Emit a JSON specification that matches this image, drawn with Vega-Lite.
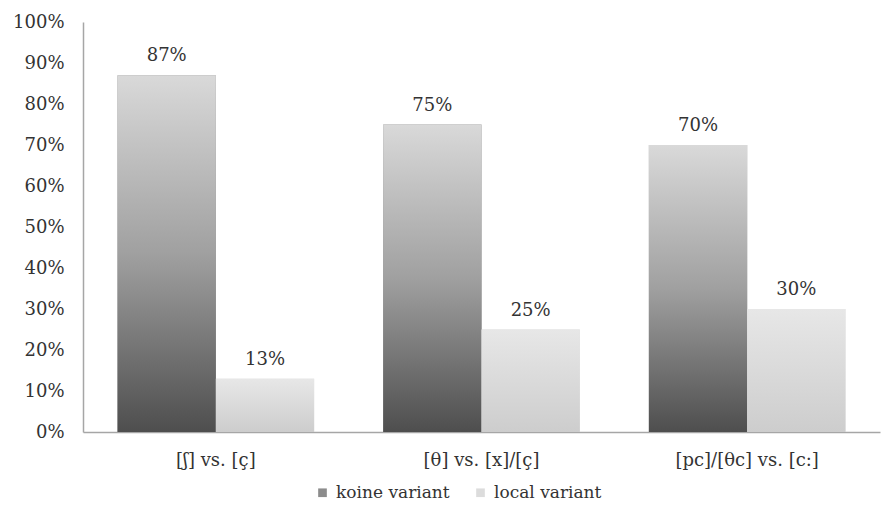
{
  "$schema": "https://vega.github.io/schema/vega-lite/v6.json",
  "width": 797,
  "height": 410,
  "autosize": {"type": "none"},
  "padding": {"left": 83, "top": 22, "right": 3, "bottom": 79},
  "background": "white",
  "config": {
    "font": "DejaVu Serif",
    "view": {"stroke": null},
    "axis": {"labelFont": "DejaVu Serif", "labelFontSize": 18, "labelColor": "#333333", "domainColor": "#a6a6a6", "domainWidth": 1.5, "ticks": false, "grid": false, "title": null}
  },
  "data": {
    "values": [
      {"pair": "[ʃ] vs. [ç]", "series": "koine variant", "share": 0.87},
      {"pair": "[ʃ] vs. [ç]", "series": "local variant", "share": 0.13},
      {"pair": "[θ] vs. [x]/[ç]", "series": "koine variant", "share": 0.75},
      {"pair": "[θ] vs. [x]/[ç]", "series": "local variant", "share": 0.25},
      {"pair": "[pc]/[θc] vs. [c:]", "series": "koine variant", "share": 0.70},
      {"pair": "[pc]/[θc] vs. [c:]", "series": "local variant", "share": 0.30}
    ]
  },
  "encoding": {
    "x": {
      "field": "pair", "type": "nominal", "sort": null,
      "scale": {"paddingInner": 0.26, "paddingOuter": 0.13},
      "axis": {"labelAngle": 0, "labelPadding": 19}
    },
    "xOffset": {"field": "series", "type": "nominal", "sort": ["koine variant", "local variant"]},
    "y": {
      "field": "share", "type": "quantitative",
      "scale": {"domain": [0, 1]},
      "axis": {"format": ".0%", "values": [0, 0.1, 0.2, 0.3, 0.4, 0.5, 0.6, 0.7, 0.8, 0.9, 1], "labelPadding": 19}
    }
  },
  "layer": [
    {
      "mark": {"type": "bar"},
      "encoding": {
        "color": {
          "field": "series", "type": "nominal",
          "scale": {"domain": ["koine variant", "local variant"], "range": ["#8c8c8c", "#dcdcdc"]},
          "legend": {
            "title": null, "orient": "none", "direction": "horizontal",
            "legendX": 231, "legendY": 462,
            "symbolType": "square", "symbolSize": 75,
            "labelFont": "DejaVu Serif", "labelFontSize": 17, "labelColor": "#333333",
            "columnPadding": 22, "labelOffset": 5,
            "encode": {
              "symbols": {
                "update": {
                  "fill": {"signal": "datum.value === 'koine variant' ? {gradient: 'linear', x1: 0, y1: 1, x2: 0, y2: 0, stops: [{offset: 0, color: '#505050'}, {offset: 1, color: '#d8d8d8'}]} : {gradient: 'linear', x1: 0, y1: 1, x2: 0, y2: 0, stops: [{offset: 0, color: '#cccccc'}, {offset: 1, color: '#e8e8e8'}]}"}
                }
              }
            }
          }
        }
      }
    },
    {
      "mark": {"type": "bar"},
      "encoding": {
        "fill": {
          "condition": {
            "test": "datum.series === 'koine variant'",
            "value": {"gradient": "linear", "x1": 0, "y1": 1, "x2": 0, "y2": 0, "stops": [{"offset": 0, "color": "#4e4e4e"}, {"offset": 0.5, "color": "#a0a0a0"}, {"offset": 1, "color": "#d9d9d9"}]}
          },
          "value": {"gradient": "linear", "x1": 0, "y1": 1, "x2": 0, "y2": 0, "stops": [{"offset": 0, "color": "#cdcdcd"}, {"offset": 1, "color": "#e7e7e7"}]}
        }
      }
    },
    {
      "mark": {"type": "text", "baseline": "bottom", "dy": -10, "fontSize": 18, "color": "#333333", "font": "DejaVu Serif"},
      "encoding": {
        "text": {"field": "share", "type": "quantitative", "format": ".0%"}
      }
    }
  ]
}
